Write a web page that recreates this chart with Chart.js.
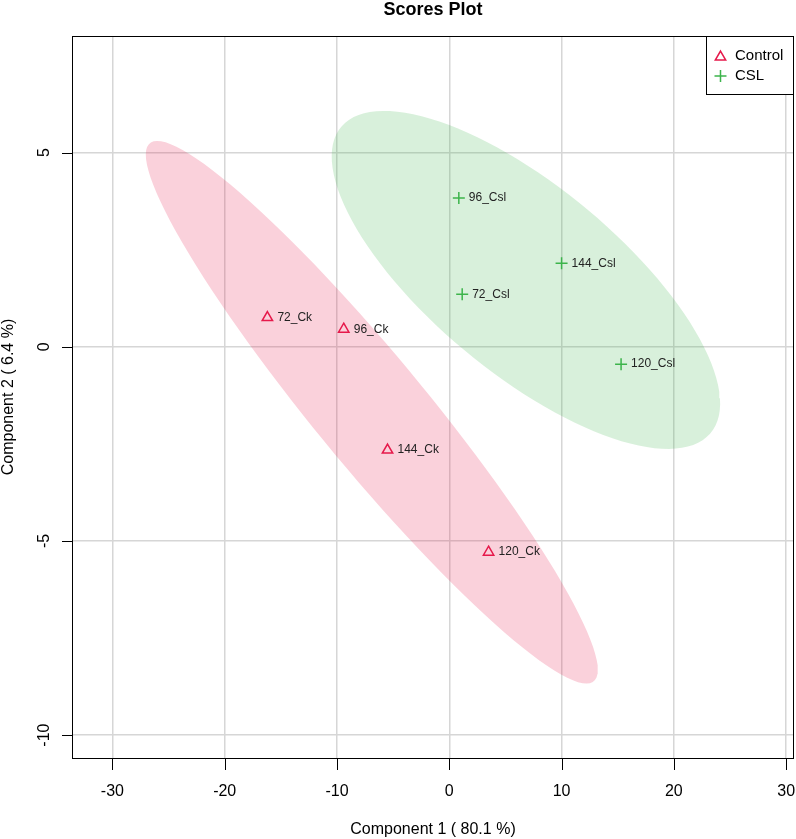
<!DOCTYPE html>
<html>
<head>
<meta charset="utf-8">
<title>Scores Plot</title>
<script src="https://cdn.jsdelivr.net/npm/chart.js@4.4.0/dist/chart.umd.min.js"></script>
<style>
html, body { margin: 0; padding: 0; background: #fff; }
canvas { display: block; }
</style>
</head>
<body>
<canvas id="scores" width="796" height="839"></canvas>
<script>
// sample scores
var ctrlNames = ["72_Ck", "96_Ck", "144_Ck", "120_Ck"]
var ctrlX = [-16.2, -9.4, -5.5, 3.5]
var ctrlY = [0.75, 0.45, -2.66, -5.29]

var cslNames = ["96_Csl", "144_Csl", "72_Csl", "120_Csl"]
var cslX = [0.85, 10.0, 1.15, 15.3]
var cslY = [3.83, 2.15, 1.35, -0.45]

var xTicks = [-30, -20, -10, 0, 10, 20, 30]
var yTicks = [-10, -5, 0, 5]

var groups = ["Control", "CSL"]
var red = "#e6194b"
var green = "#3cb44b"
var font = '"Liberation Sans", Arial, sans-serif'

function toPoints(xs, ys) {
    return xs.map(function(x, i){ return {x: x, y: ys[i]} })
}

// 95% confidence ellipse (same as R's ellipse::ellipse on the group covariance)
function ellipse95(xs, ys) {
    var n = xs.length, mx = 0, my = 0
    for (var i = 0; i < n; i++) { mx += xs[i]; my += ys[i] }
    mx /= n; my /= n
    var sxx = 0, syy = 0, sxy = 0
    for (var i = 0; i < n; i++) {
        sxx += (xs[i]-mx)*(xs[i]-mx)
        syy += (ys[i]-my)*(ys[i]-my)
        sxy += (xs[i]-mx)*(ys[i]-my)
    }
    var sx = Math.sqrt(sxx/(n-1)), sy = Math.sqrt(syy/(n-1))
    var d = Math.acos(sxy/(n-1)/(sx*sy))
    var t = Math.sqrt(-2*Math.log(0.05))
    var pts = []
    for (var k = 0; k <= 120; k++) {
        var a = 2*Math.PI*k/120
        pts.push({x: t*sx*Math.cos(a + d/2) + mx, y: t*sy*Math.cos(a - d/2) + my})
    }
    return pts
}

var decor = {
    id: "decor",
    afterDatasetsDraw: function(chart) {
        var ctx = chart.ctx, area = chart.chartArea
        var xs = chart.scales.x, ys = chart.scales.y
        ctx.save()

        // point labels
        ctx.fillStyle = "#222"
        ctx.font = "12px " + font
        ctx.textAlign = "left"
        ctx.textBaseline = "middle"
        var sets = [[ctrlNames, ctrlX, ctrlY], [cslNames, cslX, cslY]]
        sets.forEach(function(s){
            s[0].forEach(function(name, i){
                ctx.fillText(name, xs.getPixelForValue(s[1][i]) + 10, ys.getPixelForValue(s[2][i]))
            })
        })

        // box
        ctx.strokeStyle = "#000"
        ctx.lineWidth = 1
        ctx.strokeRect(area.left + 0.5, area.top + 0.5, area.right - area.left - 1, area.bottom - area.top)

        // ticks
        ctx.fillStyle = "#000"
        ctx.font = "16px " + font
        ctx.beginPath()
        xTicks.forEach(function(v){
            var px = Math.round(xs.getPixelForValue(v)) + 0.5
            ctx.moveTo(px, area.bottom); ctx.lineTo(px, area.bottom + 12)
        })
        yTicks.forEach(function(v){
            var py = Math.round(ys.getPixelForValue(v)) + 0.5
            ctx.moveTo(area.left, py); ctx.lineTo(area.left - 10, py)
        })
        ctx.stroke()

        ctx.textAlign = "center"
        ctx.textBaseline = "middle"
        xTicks.forEach(function(v){
            ctx.fillText(String(v), xs.getPixelForValue(v), area.bottom + 34)
        })
        yTicks.forEach(function(v){
            ctx.save()
            ctx.translate(45, ys.getPixelForValue(v))
            ctx.rotate(-Math.PI/2)
            ctx.fillText(String(v), 0, 0)
            ctx.restore()
        })

        // axis titles
        var cx = (area.left + area.right)/2, cy = (area.top + area.bottom)/2
        ctx.fillText("Component 1 ( 80.1 %)", cx, 830)
        ctx.save()
        ctx.translate(9, cy)
        ctx.rotate(-Math.PI/2)
        ctx.fillText("Component 2 ( 6.4 %)", 0, 0)
        ctx.restore()

        // main title
        ctx.font = "bold 18px " + font
        ctx.textBaseline = "alphabetic"
        ctx.fillText("Scores Plot", cx, 15)

        // legend
        var lx = 706, ly = area.top
        ctx.fillStyle = "#fff"
        ctx.fillRect(lx, ly, area.right - lx, 58)
        ctx.strokeStyle = "#000"
        ctx.strokeRect(lx + 0.5, ly + 0.5, area.right - lx - 1, 58)
        ctx.strokeStyle = red
        ctx.lineWidth = 1.5
        Chart.helpers.drawPoint(ctx, {pointStyle: "triangle", radius: 6, borderWidth: 1.5}, 720.5, 57)
        ctx.strokeStyle = green
        Chart.helpers.drawPoint(ctx, {pointStyle: "cross", radius: 6, borderWidth: 1.5}, 720.5, 76)
        ctx.fillStyle = "#000"
        ctx.font = "15px " + font
        ctx.textAlign = "left"
        ctx.textBaseline = "middle"
        ctx.fillText(groups[0], 735, 56)
        ctx.fillText(groups[1], 735, 76)

        ctx.restore()
    }
}

var chart = new Chart(document.getElementById("scores").getContext("2d"), {
    type: "scatter",
    data: {
        datasets: [
            {
                label: "Control region",
                data: ellipse95(ctrlX, ctrlY),
                showLine: true,
                fill: "shape",
                backgroundColor: "rgba(230,25,75,0.2)",
                borderWidth: 0,
                borderColor: "rgba(0,0,0,0)",
                pointRadius: 0,
                order: 3
            },
            {
                label: "CSL region",
                data: ellipse95(cslX, cslY),
                showLine: true,
                fill: "shape",
                backgroundColor: "rgba(60,180,75,0.2)",
                borderWidth: 0,
                borderColor: "rgba(0,0,0,0)",
                pointRadius: 0,
                order: 3
            },
            {
                label: groups[0],
                data: toPoints(ctrlX, ctrlY),
                pointStyle: "triangle",
                pointRadius: 6,
                pointBorderWidth: 1.5,
                pointBorderColor: red,
                pointBackgroundColor: "rgba(0,0,0,0)",
                order: 1
            },
            {
                label: groups[1],
                data: toPoints(cslX, cslY),
                pointStyle: "cross",
                pointRadius: 6,
                pointBorderWidth: 1.5,
                pointBorderColor: green,
                pointBackgroundColor: "rgba(0,0,0,0)",
                order: 1
            }
        ]
    },
    options: {
        responsive: false,
        animation: false,
        events: [],
        layout: { autoPadding: false, padding: { left: 72, right: 2, top: 36, bottom: 81 } },
        plugins: { legend: { display: false }, title: { display: false }, tooltip: { enabled: false } },
        scales: {
            x: {
                min: -33.6, max: 30.7,
                afterBuildTicks: function(s){ s.ticks = xTicks.map(function(v){ return {value: v} }) },
                ticks: { display: false },
                grid: { color: "#d6d6d6", lineWidth: 1.5, drawTicks: false },
                border: { display: false }
            },
            y: {
                min: -10.59, max: 8.0,
                afterBuildTicks: function(s){ s.ticks = yTicks.map(function(v){ return {value: v} }) },
                ticks: { display: false },
                grid: { color: "#d6d6d6", lineWidth: 1.5, drawTicks: false },
                border: { display: false }
            }
        }
    },
    plugins: [decor]
})
</script>
</body>
</html>
